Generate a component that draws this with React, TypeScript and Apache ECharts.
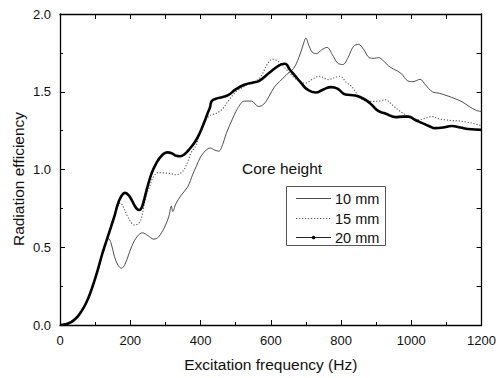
import React, { useEffect, useRef } from "react";
import * as echarts from "echarts";

// Shared low-frequency rise (Hz, efficiency)
const rise: [number, number][] = [
  [0, 0], [15, 0.004], [30, 0.017], [45, 0.042], [60, 0.085], [75, 0.145],
  [90, 0.23], [105, 0.335], [120, 0.455], [132, 0.54],
];

const mm10: [number, number][] = [
  [138, 0.555], [145, 0.53], [155, 0.44], [165, 0.385], [175, 0.365], [185, 0.39],
  [195, 0.45], [205, 0.51], [220, 0.57], [235, 0.593], [250, 0.575], [267, 0.552],
  [280, 0.565], [298, 0.63], [310, 0.7], [317, 0.765], [321, 0.73], [330, 0.78],
  [345, 0.835], [364, 0.89], [378, 0.97], [388, 1.02], [400, 1.08], [416, 1.125],
  [428, 1.138], [440, 1.125], [452, 1.118], [463, 1.16], [473, 1.23], [490, 1.32],
  [505, 1.39], [525, 1.44], [545, 1.44], [565, 1.405], [580, 1.42], [595, 1.47],
  [610, 1.53], [625, 1.565], [645, 1.61], [665, 1.65], [680, 1.72], [692, 1.8],
  [700, 1.845], [708, 1.8], [718, 1.755], [730, 1.745], [745, 1.77], [760, 1.785],
  [775, 1.74], [790, 1.685], [805, 1.675], [820, 1.72], [835, 1.79], [850, 1.805],
  [865, 1.77], [880, 1.72], [895, 1.715], [907, 1.72], [920, 1.7], [936, 1.665],
  [950, 1.645], [970, 1.62], [990, 1.57], [1005, 1.565], [1025, 1.58], [1040, 1.545],
  [1060, 1.5], [1080, 1.49], [1105, 1.472], [1125, 1.455], [1145, 1.435],
  [1165, 1.405], [1185, 1.38], [1200, 1.373],
];

const mm15: [number, number][] = [
  [145, 0.63], [155, 0.71], [165, 0.77], [172, 0.785], [180, 0.76], [192, 0.7],
  [205, 0.652], [213, 0.643], [222, 0.65], [230, 0.675], [236, 0.73], [245, 0.83],
  [255, 0.89], [265, 0.95], [279, 0.98], [295, 0.978], [312, 0.975], [331, 0.966],
  [350, 0.99], [362, 1.04], [373, 1.106], [388, 1.16], [397, 1.225], [410, 1.3],
  [425, 1.345], [444, 1.36], [455, 1.375], [463, 1.39], [482, 1.45], [501, 1.5],
  [530, 1.54], [567, 1.585], [591, 1.68], [605, 1.71], [624, 1.69], [652, 1.625],
  [675, 1.575], [699, 1.556], [718, 1.58], [737, 1.6], [765, 1.578], [780, 1.59],
  [797, 1.6], [815, 1.56], [832, 1.53], [850, 1.47], [865, 1.445], [888, 1.438],
  [907, 1.44], [926, 1.449], [945, 1.417], [965, 1.38], [983, 1.352], [1000, 1.33],
  [1021, 1.32], [1040, 1.33], [1059, 1.341], [1080, 1.325], [1096, 1.32],
  [1115, 1.315], [1134, 1.313], [1155, 1.305], [1172, 1.299], [1200, 1.281],
];

const mm20: [number, number][] = [
  [145, 0.63], [155, 0.7], [165, 0.78], [175, 0.83], [185, 0.85], [195, 0.835],
  [205, 0.8], [213, 0.765], [220, 0.745], [226, 0.74], [232, 0.752], [240, 0.81],
  [248, 0.88], [260, 0.97], [274, 1.04], [290, 1.09], [305, 1.11], [318, 1.105],
  [331, 1.088], [342, 1.085], [355, 1.1], [370, 1.135], [385, 1.18], [397, 1.23],
  [410, 1.3], [420, 1.36], [427, 1.4], [432, 1.44], [444, 1.455], [463, 1.466],
  [480, 1.48], [500, 1.515], [525, 1.545], [550, 1.56], [567, 1.57], [595, 1.62],
  [624, 1.67], [640, 1.68], [655, 1.64], [670, 1.6], [685, 1.56], [704, 1.515],
  [728, 1.495], [750, 1.515], [772, 1.53], [790, 1.52], [813, 1.482], [840, 1.476],
  [860, 1.46], [875, 1.44], [888, 1.415], [907, 1.375], [926, 1.36], [955, 1.337],
  [975, 1.34], [992, 1.34], [1010, 1.32], [1030, 1.3], [1050, 1.28], [1068, 1.266],
  [1090, 1.27], [1115, 1.28], [1140, 1.27], [1162, 1.26], [1200, 1.255],
];

const legendLabels = ["10 mm", "15 mm", "20 mm"];
const FONT = "'Liberation Sans', Arial, Helvetica, sans-serif";

export default function App() {
  const ref = useRef<HTMLDivElement>(null);
  useEffect(() => {
    if (!ref.current) return;
    const chart = echarts.init(ref.current, undefined, { renderer: "svg" });
    const tickCommon = {
      axisLine: { show: true, onZero: false, lineStyle: { color: "#000", width: 1.3 } },
      splitLine: { show: false },
    };
    chart.setOption({
      animation: false,
      backgroundColor: "#fff",
      textStyle: { fontFamily: FONT },
      grid: { left: 60, right: 16, top: 14, bottom: 53, containLabel: false },
      xAxis: [
        {
          type: "value", min: 0, max: 1200, interval: 200, position: "bottom",
          ...tickCommon,
          axisTick: { show: true, inside: true, length: 5, lineStyle: { color: "#000", width: 1 } },
          minorTick: { show: true, splitNumber: 2, length: 3, lineStyle: { color: "#000", width: 1 } },
          axisLabel: { color: "#111", fontSize: 13, margin: 9, fontFamily: FONT, formatter: (v: number) => String(v) },
          name: "Excitation frequency (Hz)", nameLocation: "middle", nameGap: 31,
          nameTextStyle: { fontSize: 15.5, color: "#111", fontFamily: FONT },
        },
        {
          type: "value", min: 0, max: 1200, interval: 100, position: "top",
          ...tickCommon,
          axisTick: { show: true, inside: true, length: 5, lineStyle: { color: "#000", width: 1 } },
          axisLabel: { show: false },
        },
      ],
      yAxis: [
        {
          type: "value", min: 0, max: 2, interval: 0.5, position: "left",
          ...tickCommon,
          axisTick: { show: true, inside: true, length: 5, lineStyle: { color: "#000", width: 1 } },
          minorTick: { show: true, splitNumber: 2, length: 3, lineStyle: { color: "#000", width: 1 } },
          axisLabel: { color: "#111", fontSize: 13, margin: 9, fontFamily: FONT, formatter: (v: number) => v.toFixed(1) },
        },
        {
          type: "value", min: 0, max: 2, interval: 0.25, position: "right",
          ...tickCommon,
          axisTick: { show: true, inside: true, length: 5, lineStyle: { color: "#000", width: 1 } },
          axisLabel: { show: false },
        },
      ],
      series: [
        {
          name: legendLabels[0], type: "line", showSymbol: false, smooth: 0.35,
          data: [...rise, ...mm10],
          lineStyle: { color: "#3a3a3a", width: 0.9, type: "solid" },
          z: 3,
        },
        {
          name: legendLabels[1], type: "line", showSymbol: false, smooth: 0.35,
          data: [...rise, ...mm15],
          lineStyle: { color: "#555", width: 1.1, type: [1.2, 1.8] },
          z: 4,
        },
        {
          name: legendLabels[2], type: "line", showSymbol: false, smooth: 0.5,
          data: [...rise, ...mm20],
          lineStyle: { color: "#000", width: 2.6, type: "solid", join: "round" },
          z: 5,
        },
      ],
      graphic: [
        {
          type: "text", x: 18, y: 179, rotation: Math.PI / 2,
          style: { text: "Radiation efficiency", fontSize: 15.5, fill: "#111", fontFamily: FONT, textAlign: "center", textVerticalAlign: "middle" },
        },
        {
          type: "text", x: 242, y: 168,
          style: { text: "Core height", fontSize: 15.5, fill: "#111", fontFamily: FONT, textAlign: "left", textVerticalAlign: "middle" },
        },
        {
          type: "rect", shape: { x: 286.5, y: 186.5, width: 99, height: 59 },
          style: { fill: "#fff", stroke: "#555", lineWidth: 1 }, z: 10,
        },
        { type: "line", shape: { x1: 296, y1: 198.5, x2: 331, y2: 198.5 }, style: { stroke: "#3a3a3a", lineWidth: 0.9 }, z: 11 },
        { type: "line", shape: { x1: 296, y1: 218.5, x2: 331, y2: 218.5 }, style: { stroke: "#555", lineWidth: 1, lineDash: [1.2, 1.8] }, z: 11 },
        { type: "line", shape: { x1: 296, y1: 237.5, x2: 331, y2: 237.5 }, style: { stroke: "#222", lineWidth: 1 }, z: 11 },
        { type: "circle", shape: { cx: 313.5, cy: 237.5, r: 1.8 }, style: { fill: "#000" }, z: 11 },
        {
          type: "text", x: 335, y: 198.5, z: 11,
          style: { text: legendLabels[0], fontSize: 14.5, fill: "#111", fontFamily: FONT, textVerticalAlign: "middle" },
        },
        {
          type: "text", x: 335, y: 218.5, z: 11,
          style: { text: legendLabels[1], fontSize: 14.5, fill: "#111", fontFamily: FONT, textVerticalAlign: "middle" },
        },
        {
          type: "text", x: 335, y: 237.5, z: 11,
          style: { text: legendLabels[2], fontSize: 14.5, fill: "#111", fontFamily: FONT, textVerticalAlign: "middle" },
        },
      ],
    });
    return () => chart.dispose();
  }, []);
  return (
    <div
      ref={ref}
      style={{ position: "absolute", left: 0, top: 0, width: 499, height: 378, background: "#fff" }}
    />
  );
}
